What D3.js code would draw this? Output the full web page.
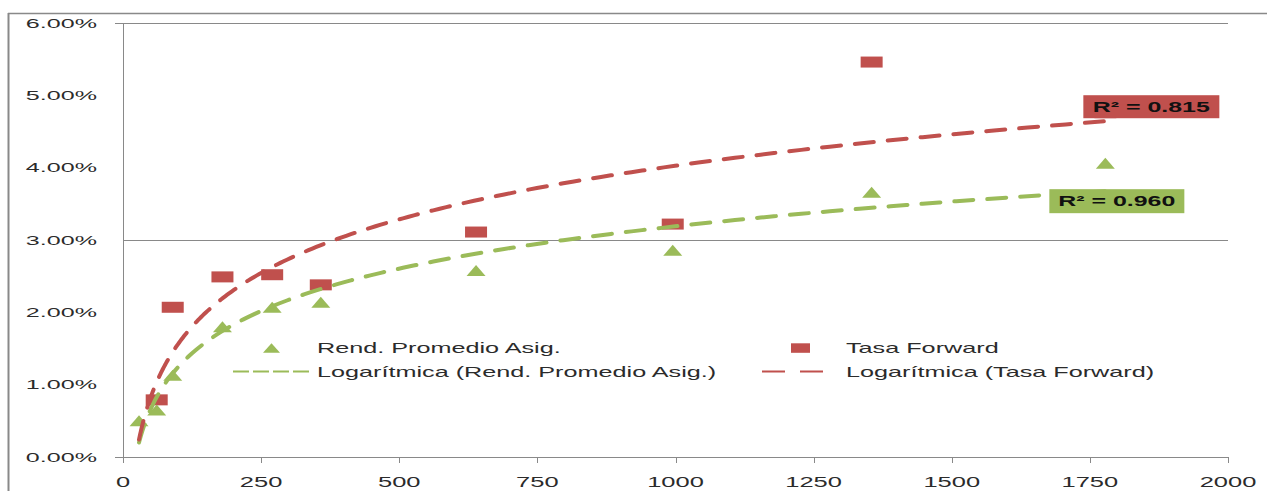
<!DOCTYPE html>
<html>
<head>
<meta charset="utf-8">
<script src="https://cdn.jsdelivr.net/npm/d3@7"></script>
<style>
  body { margin: 0; background: #fff; }
  svg { display: block; font-family: "Liberation Sans", Arial, sans-serif; }
  .frame line, .axis line { stroke: #898989; }
  .lbl { fill: #2b2b2b; }
</style>
</head>
<body>
<div id="chart"></div>
<script>
// plazo en dias
var days = [29, 61, 90, 180, 270, 358, 639, 995, 1355, 1778];
var rendPromedio = [0.0050, 0.0065, 0.0113, 0.0180, 0.0207, 0.0214, 0.0258, 0.0286, 0.0366, 0.0406];
var tasaForward = [null, 0.0079, 0.0207, 0.0249, 0.0252, 0.0238, 0.0311, 0.0322, 0.0546, 0.0476];
var seriesNames = ["Rend. Promedio Asig.", "Tasa Forward"];
var trendNames = ["Logarítmica (Rend. Promedio Asig.)", "Logarítmica (Tasa Forward)"];
var r2Labels = ["R² = 0.960", "R² = 0.815"];
var xTicks = [0, 250, 500, 750, 1000, 1250, 1500, 1750, 2000];
var yTicks = [0, 0.01, 0.02, 0.03, 0.04, 0.05, 0.06];
var yGrid = [0.03, 0.06];

var width = 1267, height = 491;
var green = "#9bbb59", red = "#c0504d";

var svg = d3.select("#chart").append("svg")
    .attr("width", width)
    .attr("height", height);

var x = d3.scaleLinear().domain([0, 2000]).range([123, 1228]);
var y = d3.scaleLinear().domain([0, 0.06]).range([457, 23]);

// stretch text horizontally like the resized excel picture
function stretch(sel, k) {
  sel.each(function() {
    var w = this.getComputedTextLength();
    d3.select(this).attr("textLength", w * k).attr("lengthAdjust", "spacingAndGlyphs");
  });
}

// outer frame
var frame = svg.append("g").attr("class", "frame");
frame.append("line").attr("x1", 8).attr("x2", width).attr("y1", 13.5).attr("y2", 13.5).attr("stroke-width", 1.6);
frame.append("line").attr("x1", 8.5).attr("x2", 8.5).attr("y1", 13).attr("y2", height).attr("stroke-width", 2);

// gridlines
var axis = svg.append("g").attr("class", "axis");
axis.selectAll(".grid").data(yGrid).enter().append("line")
    .attr("x1", function(d) { return d === 0.06 ? 115 : x(0); })
    .attr("x2", x(2000))
    .attr("y1", function(d) { return Math.round(y(d)) + 0.5; })
    .attr("y2", function(d) { return Math.round(y(d)) + 0.5; });

// y axis
axis.append("line").attr("x1", 123.5).attr("x2", 123.5).attr("y1", y(0.06)).attr("y2", y(0) + 5);
// x axis
axis.append("line").attr("x1", 115).attr("x2", x(2000)).attr("y1", 457.5).attr("y2", 457.5);
axis.selectAll(".xtick").data(xTicks).enter().append("line")
    .attr("x1", function(d) { return Math.round(x(d)) + 0.5; })
    .attr("x2", function(d) { return Math.round(x(d)) + 0.5; })
    .attr("y1", 457).attr("y2", 463);

svg.append("g").selectAll("text").data(yTicks).enter().append("text")
    .attr("class", "lbl")
    .attr("x", 97)
    .attr("y", function(d) { return y(d); })
    .attr("dy", "0.36em")
    .attr("text-anchor", "end")
    .style("font-size", "13px")
    .text(function(d) { return (d * 100).toFixed(2) + "%"; })
    .call(stretch, 1.93);

svg.append("g").selectAll("text").data(xTicks).enter().append("text")
    .attr("class", "lbl")
    .attr("x", function(d) { return x(d); })
    .attr("y", 482)
    .attr("dy", "0.36em")
    .attr("text-anchor", "middle")
    .style("font-size", "14px")
    .text(function(d) { return d; })
    .call(stretch, 1.82);

// markers
var squares = days.map(function(d, i) { return {x: d, y: tasaForward[i]}; })
    .filter(function(p) { return p.y != null; });
var triangles = days.map(function(d, i) { return {x: d, y: rendPromedio[i]}; });

svg.append("g").selectAll("rect").data(squares).enter().append("rect")
    .attr("x", function(d) { return x(d.x) - 11; })
    .attr("y", function(d) { return y(d.y) - 5.5; })
    .attr("width", 22)
    .attr("height", 11)
    .attr("fill", red);

function tri(cx, cy, w, h) {
  return "M" + (cx - w / 2) + "," + (cy + h / 2) + "L" + cx + "," + (cy - h / 2) + "L" + (cx + w / 2) + "," + (cy + h / 2) + "Z";
}

svg.append("g").selectAll("path").data(triangles).enter().append("path")
    .attr("d", function(d) { return tri(x(d.x), y(d.y), 19, 11); })
    .attr("fill", green);

// logarithmic trendlines (least squares on ln x)
function logFit(xs, ys) {
  var pts = xs.map(function(d, i) { return [Math.log(d), ys[i]]; })
      .filter(function(p) { return p[1] != null; });
  var mx = d3.mean(pts, function(p) { return p[0]; });
  var my = d3.mean(pts, function(p) { return p[1]; });
  var sxy = d3.sum(pts, function(p) { return (p[0] - mx) * (p[1] - my); });
  var sxx = d3.sum(pts, function(p) { return (p[0] - mx) * (p[0] - mx); });
  var a = sxy / sxx;
  return {a: a, b: my - a * mx};
}

var ext = d3.extent(days);
var samples = d3.range(0, 201).map(function(i) {
  return Math.exp(Math.log(ext[0]) + (Math.log(ext[1]) - Math.log(ext[0])) * i / 200);
});
var line = d3.line()
    .x(function(d) { return x(d[0]); })
    .y(function(d) { return y(d[1]); });

var fits = [logFit(days, rendPromedio), logFit(days, tasaForward)];
var colors = [green, red];

fits.forEach(function(f, k) {
  svg.append("path")
    .attr("d", line(samples.map(function(s) { return [s, f.a * Math.log(s) + f.b]; })))
    .attr("fill", "none")
    .attr("stroke", colors[k])
    .attr("stroke-width", 4)
    .attr("stroke-linecap", "round")
    .attr("stroke-dasharray", "19,14");
});

// R² labels near the end of each trendline
var endX = x(ext[1]);
var r2Pos = [
  {dx: -56, dy: -2, w: 135, h: 24},
  {dx: -22, dy: -26, w: 136, h: 23}
];
fits.forEach(function(f, k) {
  var ey = y(f.a * Math.log(ext[1]) + f.b);
  var p = r2Pos[k];
  var g = svg.append("g").attr("transform", "translate(" + (endX + p.dx) + "," + (ey + p.dy) + ")");
  g.append("rect").attr("width", p.w).attr("height", p.h).attr("fill", colors[k]);
  g.append("text")
    .attr("x", p.w / 2)
    .attr("y", p.h / 2)
    .attr("dy", "0.36em")
    .attr("text-anchor", "middle")
    .style("font-size", "14px")
    .style("font-weight", "bold")
    .attr("fill", "#111")
    .text(r2Labels[k])
    .call(stretch, 1.78);
});

// legend
var legend = svg.append("g");
var row1 = 348, row2 = 371.5;

legend.append("path").attr("d", tri(271.5, row1, 17, 9.5)).attr("fill", green);
legend.append("line").attr("x1", 233).attr("x2", 311).attr("y1", row2).attr("y2", row2)
    .attr("stroke", green).attr("stroke-width", 2).attr("stroke-dasharray", "16,4");
legend.append("rect").attr("x", 791).attr("y", row1 - 4.7).attr("width", 19).attr("height", 9.5).attr("fill", red);
legend.append("line").attr("x1", 762).attr("x2", 823).attr("y1", row2).attr("y2", row2)
    .attr("stroke", red).attr("stroke-width", 2).attr("stroke-dasharray", "23,15");

var legendText = [
  {t: seriesNames[0], x: 317, y: row1},
  {t: trendNames[0], x: 317, y: row2},
  {t: seriesNames[1], x: 846, y: row1},
  {t: trendNames[1], x: 846, y: row2}
];
legend.selectAll("text").data(legendText).enter().append("text")
    .attr("class", "lbl")
    .attr("x", function(d) { return d.x; })
    .attr("y", function(d) { return d.y; })
    .attr("dy", "0.36em")
    .style("font-size", "15px")
    .text(function(d) { return d.t; })
    .call(stretch, 1.68);
</script>
</body>
</html>
